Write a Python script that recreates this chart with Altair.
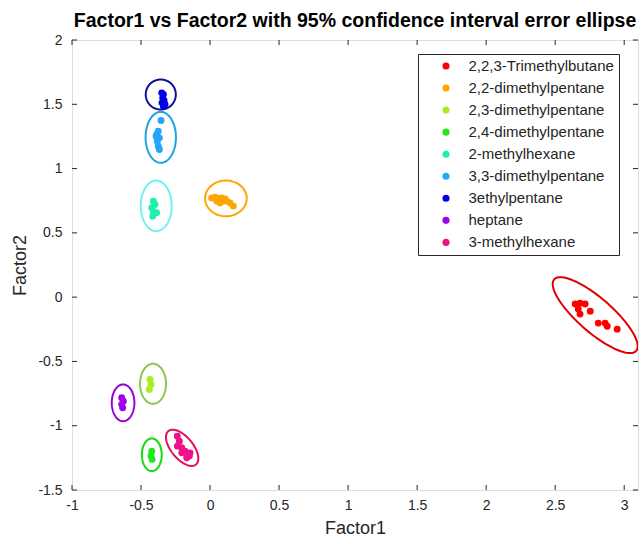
import altair as alt
import numpy as np
import pandas as pd

names = ["2,2,3-Trimethylbutane", "2,2-dimethylpentane", "2,3-dimethylpentane",
         "2,4-dimethylpentane", "2-methylhexane", "3,3-dimethylpentane",
         "3ethylpentane", "heptane", "3-methylhexane"]
point_colors = ["#ff0000", "#ffa500", "#aaee22", "#22e622", "#22eeb0",
                "#22a6ff", "#0000e6", "#a000f0", "#f0108c"]
ellipse_colors = ["#e00000", "#ffa500", "#8cc850", "#10dd10", "#70f2f2",
                  "#1ca6e0", "#10109a", "#9a00d8", "#e0105a"]

# scores per compound (Factor1, Factor2)
tmb_x = [2.645, 2.68, 2.717, 2.667, 2.68, 2.754, 2.812, 2.862, 2.877, 2.949]
tmb_y = [-0.054, -0.047, -0.054, -0.093, -0.132, -0.109, -0.202, -0.202, -0.226, -0.249]
dmp22_x = [0.012, 0.036, 0.06, 0.085, 0.109, 0.121, 0.145, 0.169, 0.072, 0.096, 0.048]
dmp22_y = [0.772, 0.778, 0.768, 0.772, 0.764, 0.747, 0.733, 0.708, 0.733, 0.747, 0.747]
dmp23_x = [-0.435, -0.428, -0.44]
dmp23_y = [-0.64, -0.679, -0.718]
dmp24_x = [-0.422, -0.428, -0.42]
dmp24_y = [-1.198, -1.236, -1.262]
mh2_x = [-0.411, -0.399, -0.422, -0.411, -0.387, -0.415]
mh2_y = [0.746, 0.721, 0.695, 0.669, 0.656, 0.63]
dmp33_x = [-0.355, -0.375, -0.386, -0.367, -0.382, -0.375, -0.367, -0.391]
dmp33_y = [1.374, 1.291, 1.265, 1.239, 1.213, 1.174, 1.148, 1.252]
ep3_x = [-0.35, -0.338, -0.343, -0.333, -0.348, -0.326, -0.338]
ep3_y = [1.589, 1.576, 1.55, 1.529, 1.511, 1.498, 1.485]
hep_x = [-0.64, -0.628, -0.64, -0.633]
hep_y = [-0.783, -0.809, -0.834, -0.861]
mh3_x = [-0.237, -0.222, -0.237, -0.205, -0.181, -0.15, -0.169, -0.205, -0.145]
mh3_y = [-1.081, -1.12, -1.159, -1.172, -1.198, -1.236, -1.249, -1.211, -1.211]

# 95% confidence ellipse parameters: centre and two half-axis vectors
ell_cx = [2.79, 0.115, -0.413, -0.422, -0.39, -0.357, -0.357, -0.63, -0.202]
ell_cy = [-0.14, 0.768, -0.674, -1.226, 0.71, 1.243, 1.576, -0.822, -1.172]
ell_ax = [0.297, 0.151, 0.094, 0.072, 0.112, 0.11, 0.109, 0.082, 0.10]
ell_ay = [-0.278, 0.0, 0.0, 0.0, 0.0, 0.0, 0.0, 0.0, -0.13]
ell_bx = [0.081, 0.0, 0.0, 0.0, 0.0, 0.0, 0.0, 0.0, 0.061]
ell_by = [0.0995, 0.139, 0.156, 0.127, 0.197, 0.198, 0.117, 0.143, 0.054]

x_ticks = [-1, -0.5, 0, 0.5, 1, 1.5, 2, 2.5, 3]
y_ticks = [-1.5, -1, -0.5, 0, 0.5, 1, 1.5, 2]

groups_x = [tmb_x, dmp22_x, dmp23_x, dmp24_x, mh2_x, dmp33_x, ep3_x, hep_x, mh3_x]
groups_y = [tmb_y, dmp22_y, dmp23_y, dmp24_y, mh2_y, dmp33_y, ep3_y, hep_y, mh3_y]

rows = []
for n, gx, gy in zip(names, groups_x, groups_y):
    for a, b in zip(gx, gy):
        rows.append({"name": n, "f1": a, "f2": b})
pts = pd.DataFrame(rows)

t = np.linspace(0, 2 * np.pi, 91)
erows = []
for i, n in enumerate(names):
    for k, tt in enumerate(t):
        erows.append({"name": n, "k": k,
                      "f1": ell_cx[i] + np.cos(tt) * ell_ax[i] + np.sin(tt) * ell_bx[i],
                      "f2": ell_cy[i] + np.cos(tt) * ell_ay[i] + np.sin(tt) * ell_by[i]})
ell = pd.DataFrame(erows)

W, H = 566, 450
FONT = "Liberation Sans"
TXT = "#262626"
NB = "\u00a0" * 4

xs = alt.Scale(domain=[-1, 3.1], nice=False, zero=False)
ys = alt.Scale(domain=[-1.5, 2], nice=False, zero=False)

xaxis = alt.Axis(values=x_ticks, title="Factor1", grid=False, ticks=False, domain=False,
                 labelExpr="datum.value + ''",
                 labelFontSize=14, labelColor=TXT, labelFont=FONT, labelPadding=8,
                 titleFontSize=18, titleFont=FONT, titleColor=TXT, titleFontWeight="normal",
                 titlePadding=7, labelFlush=False)
yaxis = alt.Axis(values=y_ticks, title="Factor2", grid=False, ticks=False, domain=False,
                 labelExpr="datum.value + ''",
                 labelFontSize=14, labelColor=TXT, labelFont=FONT, labelPadding=10,
                 titleFontSize=18, titleFont=FONT, titleColor=TXT, titleFontWeight="normal",
                 titlePadding=8, labelFlush=False)

ellipses = alt.Chart(ell).mark_line(strokeWidth=2, clip=True).encode(
    x=alt.X("f1:Q", scale=xs, axis=xaxis),
    y=alt.Y("f2:Q", scale=ys, axis=yaxis),
    order="k:Q",
    detail="name:N",
    color=alt.Color("name:N", scale=alt.Scale(domain=names, range=ellipse_colors), legend=None),
)

points = alt.Chart(pts).mark_circle(size=48, opacity=1).encode(
    x=alt.X("f1:Q", scale=xs),
    y=alt.Y("f2:Q", scale=ys),
    fill=alt.Fill("name:N", scale=alt.Scale(domain=names, range=point_colors),
                  sort=names,
                  legend=alt.Legend(title=None, orient="none", legendX=346, legendY=14,
                                    strokeColor=TXT, fillColor="white", padding=4.5,
                                    symbolType="circle", symbolSize=50, symbolOffset=16,
                                    labelOffset=15, labelFontSize=15, labelFont=FONT,
                                    labelColor=TXT, rowPadding=6.05, labelLimit=300,
                                    labelExpr="datum.label + '" + NB + "'")),
)

xt = pd.DataFrame({"v": x_ticks})
yt = pd.DataFrame({"v": y_ticks})
tb = alt.Chart(xt).mark_rule(color=TXT, strokeWidth=1).encode(
    x=alt.X("v:Q", scale=xs), y=alt.value(H), y2=alt.value(H - 5))
tt_ = alt.Chart(xt).mark_rule(color=TXT, strokeWidth=1).encode(
    x=alt.X("v:Q", scale=xs), y=alt.value(0), y2=alt.value(5))
tl = alt.Chart(yt).mark_rule(color=TXT, strokeWidth=1).encode(
    y=alt.Y("v:Q", scale=ys), x=alt.value(0), x2=alt.value(5))
tr = alt.Chart(yt).mark_rule(color=TXT, strokeWidth=1).encode(
    y=alt.Y("v:Q", scale=ys), x=alt.value(W), x2=alt.value(W - 5))

chart = alt.layer(ellipses, points, tb, tt_, tl, tr).resolve_scale(
    color="independent"
).properties(
    width=W, height=H,
    title=alt.TitleParams("Factor1 vs Factor2 with 95% confidence interval error ellipse",
                          fontSize=19.5, fontWeight="bold", font=FONT, color="#000000",
                          anchor="middle", offset=2),
    autosize=alt.AutoSizeParams(type="none"),
    padding={"left": 72, "top": 40, "right": 5, "bottom": 54},
).configure_view(stroke=TXT, strokeWidth=1).configure(background="white")

chart.save("out.html", embed_options={"renderer": "svg", "actions": False})
